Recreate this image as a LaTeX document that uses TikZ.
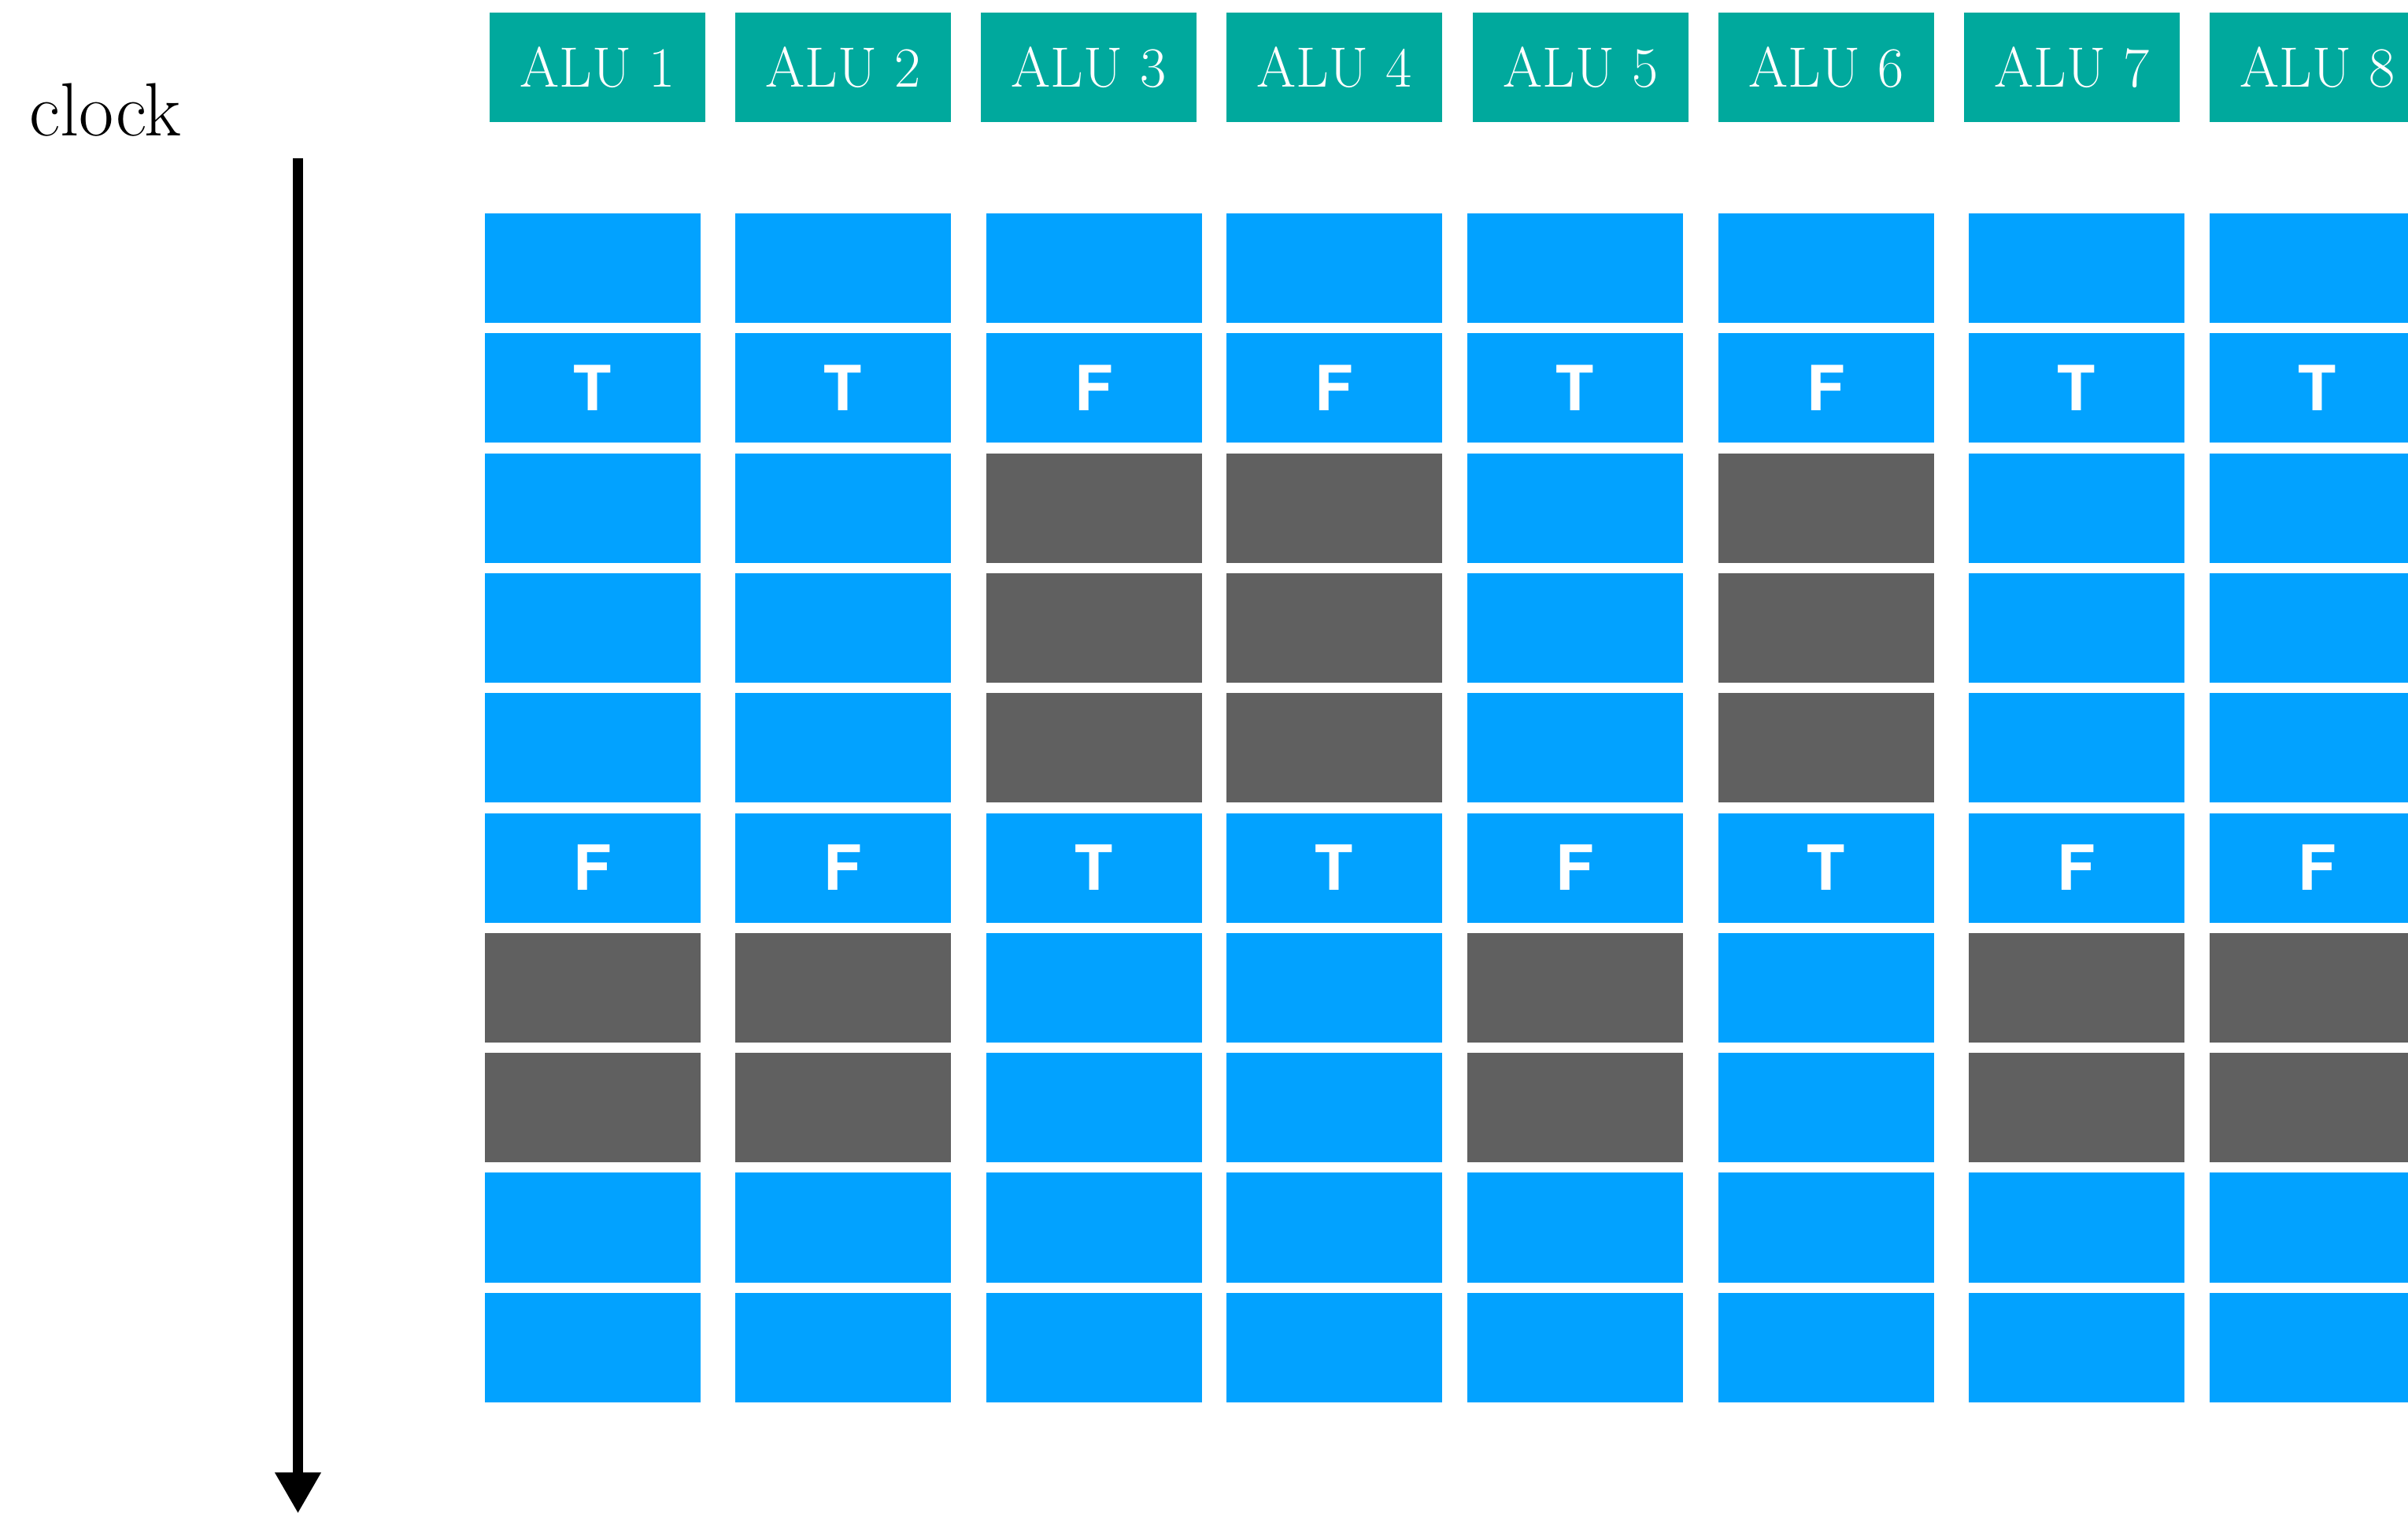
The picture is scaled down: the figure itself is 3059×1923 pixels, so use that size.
\documentclass[tikz,border=0pt]{standalone}
\usepackage{fontspec}
\newfontfamily\tffont{TeX Gyre Heros}
\usetikzlibrary{arrows.meta}
\definecolor{aluteal}{RGB}{0,169,157}
\definecolor{cellblue}{RGB}{2,162,255}
\definecolor{cellgray}{RGB}{96,96,96}
\begin{document}
\begin{tikzpicture}[x=0.01cm,y=-0.01cm,
  box/.style={draw=none,text=white,minimum width=2.74cm,minimum height=1.39cm,inner sep=0pt,outer sep=0pt,anchor=north west},
  hdr/.style={box,fill=aluteal,font=\fontsize{20.5}{24}\selectfont},
  cell/.style={box,fill=cellblue,font=\tffont\bfseries\fontsize{22.5}{26}\selectfont},
  ct-b/.style={cell,node contents={}},
  ct-g/.style={cell,fill=cellgray,node contents={}},
  ct-T/.style={cell,node contents={T}},
  ct-F/.style={cell,node contents={F}}]
\useasboundingbox (0,0) rectangle (3059,1923);
\clip (0,0) rectangle (3059,1923);
% headers
\foreach \x [count=\i] in {622,934,1246,1558,1871,2183,2495,2807}
  \node[hdr] (h\i) at (\x,16) {ALU \i};
% cells
\foreach \x/\p [count=\i] in {
  616/{b,T,b,b,b,F,g,g,b,b},
  934/{b,T,b,b,b,F,g,g,b,b},
  1253/{b,F,g,g,g,T,b,b,b,b},
  1558/{b,F,g,g,g,T,b,b,b,b},
  1864/{b,T,b,b,b,F,g,g,b,b},
  2183/{b,F,g,g,g,T,b,b,b,b},
  2501/{b,T,b,b,b,F,g,g,b,b},
  2807/{b,T,b,b,b,F,g,g,b,b}}{
  \foreach \t [count=\j] in \p
    \node (c\i-\j) at (\x,{271+(\j-1)*152.3}) [ct-\t];
}
% clock label and arrow
\node[anchor=base west,inner sep=0pt,font=\fontsize{27.3}{32}\selectfont] (clk) at (37,172) {clock};
\coordinate (ctop) at (378.5,201);
\coordinate (cbot) at (378.5,1922);
\draw[line width=3.7pt,-{Triangle[length=0.52cm,width=0.55cm]}] (ctop) -- (cbot);
\end{tikzpicture}
\end{document}
